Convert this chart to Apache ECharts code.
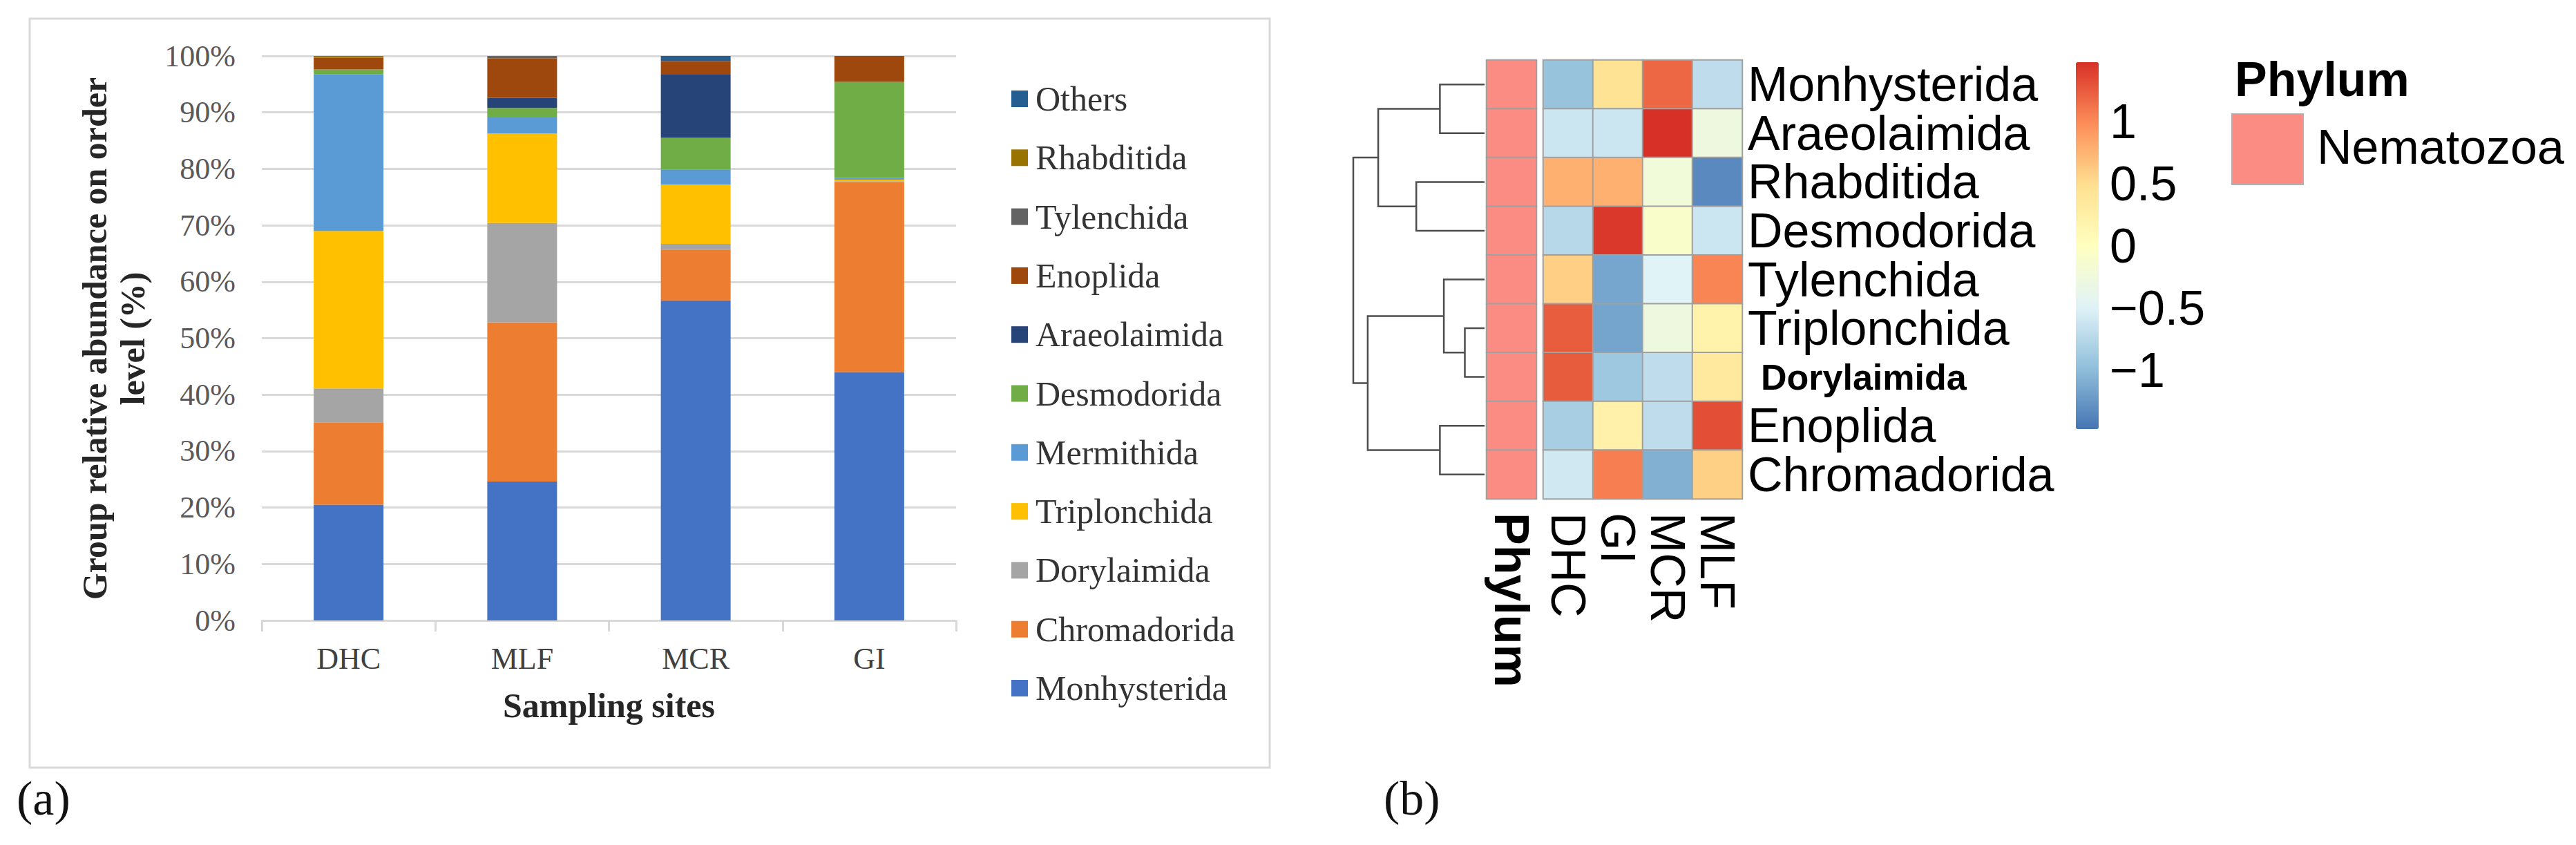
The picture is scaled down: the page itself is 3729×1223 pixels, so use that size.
<!DOCTYPE html>
<html>
<head>
<meta charset="utf-8">
<script src="https://cdn.jsdelivr.net/npm/echarts@6/dist/echarts.min.js"></script>
<style>
html,body{margin:0;padding:0;background:#fff;}
#chart{width:3729px;height:1223px;}
</style>
</head>
<body>
<div id="chart"></div>
<script>
// ---------- Panel (a): stacked bars ----------
const sites = ['DHC', 'MLF', 'MCR', 'GI'];
const monhysterida = [20.5, 24.6, 56.7, 44.0];
const chromadorida = [14.6, 28.2, 9.0, 33.7];
const dorylaimida  = [6.0, 17.6, 1.0, 0.1];
const triplonchida = [27.9, 15.9, 10.5, 0.3];
const mermithida   = [27.8, 2.8, 2.7, 0.3];
const desmodorida  = [0.8, 1.7, 5.6, 17.0];
const araeolaimida = [0, 1.8, 11.2, 0];
const enoplida     = [2.1, 7.0, 2.4, 4.6];
const tylenchida   = [0, 0.3, 0, 0];
const rhabditida   = [0.3, 0, 0, 0];
const others       = [0, 0.1, 0.9, 0];
const legendOrder = ['Others', 'Rhabditida', 'Tylenchida', 'Enoplida', 'Araeolaimida',
  'Desmodorida', 'Mermithida', 'Triplonchida', 'Dorylaimida', 'Chromadorida', 'Monhysterida'];

// ---------- Panel (b): heatmap (z-scores) ----------
const heatRows = ['Monhysterida', 'Araeolaimida', 'Rhabditida', 'Desmodorida', 'Tylenchida',
  'Triplonchida', 'Dorylaimida', 'Enoplida', 'Chromadorida'];
const heatCols = ['DHC', 'GI', 'MCR', 'MLF'];
const zMonhysterida = [-0.94, 0.45, 1.19, -0.70];
const zAraeolaimida = [-0.61, -0.61, 1.48, -0.27];
const zRhabditida   = [0.78, 0.78, -0.22, -1.34];
const zDesmodorida  = [-0.74, 1.44, -0.09, -0.61];
const zTylenchida   = [0.60, -1.15, -0.48, 1.03];
const zTriplonchida = [1.24, -1.16, -0.27, 0.20];
const zDorylaimida  = [1.25, -0.90, -0.70, 0.35];
const zEnoplida     = [-0.84, 0.22, -0.70, 1.32];
const zChromadorida = [-0.59, 1.07, -1.08, 0.59];
// dendrogram: merges of leaves (0..8) / earlier merges (9..), with heights
const dendroMerges  = [[0, 1], [2, 3], [9, 10], [5, 6], [4, 12], [7, 8], [13, 14], [11, 15]];
const dendroHeights = [3.4, 5.2, 8.1, 1.5, 3.1, 3.4, 8.9, 10.0];
const colorTicks = [-1, -0.5, 0, 0.5, 1];
const zMin = -1.47, zMax = 1.48;
const palette = ['#4575B4', '#91BFDB', '#E0F3F8', '#FFFFBF', '#FEE090', '#FC8D59', '#D73027'];

const SERIF = 'Liberation Serif';
const SANS = 'Liberation Sans';

const barDefs = [
  ['Monhysterida', monhysterida, '#4472C4'],
  ['Chromadorida', chromadorida, '#ED7D31'],
  ['Dorylaimida', dorylaimida, '#A5A5A5'],
  ['Triplonchida', triplonchida, '#FFC000'],
  ['Mermithida', mermithida, '#5B9BD5'],
  ['Desmodorida', desmodorida, '#70AD47'],
  ['Araeolaimida', araeolaimida, '#264478'],
  ['Enoplida', enoplida, '#9E480E'],
  ['Tylenchida', tylenchida, '#636363'],
  ['Rhabditida', rhabditida, '#997300'],
  ['Others', others, '#255E91']
];
const colorOf = Object.fromEntries(barDefs.map(([n, , c]) => [n, c]));

const zRows = [zMonhysterida, zAraeolaimida, zRhabditida, zDesmodorida, zTylenchida,
  zTriplonchida, zDorylaimida, zEnoplida, zChromadorida];
const heatData = [];
zRows.forEach((row, r) => row.forEach((v, c) => heatData.push([c, r, v])));
const phylumData = heatRows.map((_, r) => [0, r, 1]);

// dendrogram segments
const nodeY = [], nodeH = [];
for (let i = 0; i < heatRows.length; i++) { nodeY[i] = i; nodeH[i] = 0; }
const segs = [];
dendroMerges.forEach(([a, b], k) => {
  const id = heatRows.length + k, h = dendroHeights[k];
  nodeY[id] = (nodeY[a] + nodeY[b]) / 2; nodeH[id] = h;
  segs.push({ coords: [[nodeH[a], nodeY[a]], [h, nodeY[a]], [h, nodeY[b]], [nodeH[b], nodeY[b]]] });
});

const series = barDefs.map(([name, data, color]) => ({
  name, type: 'bar', stack: 'total', data, barWidth: 101,
  xAxisIndex: 0, yAxisIndex: 0, itemStyle: { color }
}));
series.push({
  name: 'dendrogram', type: 'lines', coordinateSystem: 'cartesian2d', xAxisIndex: 1, yAxisIndex: 1,
  polyline: true, data: segs, silent: true,
  lineStyle: { color: '#4D4D4D', width: 2.5, opacity: 1 }
});
series.push({
  name: 'Nematozoa', type: 'heatmap', xAxisIndex: 2, yAxisIndex: 2, data: phylumData,
  itemStyle: { color: '#FA8C84', borderColor: '#A0A0A0', borderWidth: 2 }
});
series.push({
  name: 'z-score', type: 'heatmap', xAxisIndex: 3, yAxisIndex: 3, data: heatData,
  itemStyle: { borderColor: '#A0A0A0', borderWidth: 2 }
});
series.push({ name: 'colorbar', type: 'scatter', xAxisIndex: 4, yAxisIndex: 4, data: [] });

// legend of panel (a): icons + serif labels
const LEG_X = 1464, LEG_Y0 = 143, LEG_STEP = 85.3;
const legendGraphics = [];
legendOrder.forEach((name, i) => {
  const cy = LEG_Y0 + i * LEG_STEP;
  legendGraphics.push({ type: 'rect', shape: { x: LEG_X, y: cy - 12, width: 24, height: 24 },
    style: { fill: colorOf[name] } });
  legendGraphics.push({ type: 'text', x: LEG_X + 35, y: cy,
    style: { text: name, fontSize: 50, fontFamily: SERIF, fill: '#333', align: 'left', verticalAlign: 'middle' } });
});

const chart = echarts.init(document.getElementById('chart'), null, { renderer: 'svg' });
chart.setOption({
  animation: false,
  backgroundColor: '#fff',
  textStyle: { fontFamily: SERIF },
  title: [
    { text: '(a)', left: 24, top: 1120, padding: 0,
      textStyle: { fontSize: 70, fontWeight: 'normal', fontFamily: SERIF, color: '#111' } },
    { text: '(b)', left: 2003, top: 1120, padding: 0,
      textStyle: { fontSize: 70, fontWeight: 'normal', fontFamily: SERIF, color: '#111' } },
    { text: 'Phylum', left: 3235, top: 80, padding: 0,
      textStyle: { fontSize: 70, fontWeight: 'bold', fontFamily: SANS, color: '#000' } },
    { text: 'Nematozoa', left: 3354, top: 178, padding: 0,
      textStyle: { fontSize: 70, fontWeight: 'normal', fontFamily: SANS, color: '#000' } }
  ],
  grid: [
    { left: 379, top: 81, width: 1005, height: 817 },
    { left: 1959, top: 87, width: 190, height: 635 },
    { left: 2152, top: 87, width: 72, height: 635 },
    { left: 2234, top: 87, width: 288, height: 635 },
    { left: 3005, top: 90, width: 33, height: 531 }
  ],
  xAxis: [
    { type: 'category', gridIndex: 0, data: sites,
      axisLine: { lineStyle: { color: '#D9D9D9', width: 3 } },
      axisTick: { show: true, length: 16, lineStyle: { color: '#D9D9D9', width: 3 } },
      axisLabel: { fontSize: 44, color: '#404040', fontFamily: SERIF, margin: 33 },
      name: 'Sampling sites', nameLocation: 'middle', nameGap: 98,
      nameTextStyle: { fontSize: 50, fontWeight: 'bold', color: '#262626', fontFamily: SERIF } },
    { type: 'value', gridIndex: 1, min: 0, max: 10, inverse: true, show: false },
    { type: 'category', gridIndex: 2, data: ['Phylum'],
      axisLine: { show: false }, axisTick: { show: false },
      axisLabel: { interval: 0, rotate: -90, fontSize: 70, fontWeight: 'bold', color: '#000', fontFamily: SANS, margin: 20 } },
    { type: 'category', gridIndex: 3, data: heatCols,
      axisLine: { show: false }, axisTick: { show: false },
      axisLabel: { interval: 0, hideOverlap: false, rotate: -90, fontSize: 70, color: '#000', fontFamily: SANS, margin: 20 } },
    { type: 'value', gridIndex: 4, min: 0, max: 1, show: false }
  ],
  yAxis: [
    { type: 'value', gridIndex: 0, min: 0, max: 100, interval: 10,
      axisLine: { show: false }, axisTick: { show: false },
      splitLine: { lineStyle: { color: '#D9D9D9', width: 3 } },
      axisLabel: { formatter: '{value}%', fontSize: 44, color: '#595959', fontFamily: SERIF, margin: 38 } },
    { type: 'value', gridIndex: 1, min: -0.5, max: 8.5, inverse: true, show: false },
    { type: 'category', gridIndex: 2, data: heatRows, inverse: true, show: false },
    { type: 'category', gridIndex: 3, data: heatRows, inverse: true, position: 'right',
      axisLine: { show: false }, axisTick: { show: false },
      axisLabel: { interval: 0, hideOverlap: false, fontSize: 70, color: '#000', fontFamily: SANS, margin: 8,
        formatter: v => v === 'Dorylaimida' ? '{b|' + v + '}' : v,
        rich: { b: { fontSize: 52, fontWeight: 'bold', color: '#000', fontFamily: SANS, padding: [0, 0, 0, 19] } } } },
    { type: 'value', gridIndex: 4, min: zMin, max: zMax, position: 'right',
      axisLine: { show: false }, axisTick: { show: false }, splitLine: { show: false },
      axisLabel: { customValues: colorTicks, fontSize: 70, color: '#000', fontFamily: SANS, margin: 16,
        formatter: v => v < 0 ? '\u2212' + Math.abs(v) : String(v) } }
  ],
  visualMap: {
    type: 'continuous', min: zMin, max: zMax, seriesIndex: 13, calculable: false,
    orient: 'vertical', left: 3005, top: 90, itemWidth: 33, itemHeight: 531, padding: 0,
    inRange: { color: palette }, showLabel: false
  },
  graphic: [
    { type: 'rect', z: -10, shape: { x: 43, y: 27, width: 1795, height: 1084 },
      style: { fill: 'none', stroke: '#D9D9D9', lineWidth: 3 } },
    { type: 'rect', shape: { x: 3231, y: 165, width: 103, height: 102 },
      style: { fill: '#FA8C84', stroke: '#B0B0B0', lineWidth: 2 } },
    { type: 'text', x: 164, y: 490, rotation: Math.PI / 2,
      style: { text: 'Group relative abundance on order\nlevel (%)', fontSize: 50, fontWeight: 'bold',
        fontFamily: SERIF, fill: '#262626', align: 'center', verticalAlign: 'middle', lineHeight: 55 } }
  ].concat(legendGraphics),
  series
});
</script>
</body>
</html>
